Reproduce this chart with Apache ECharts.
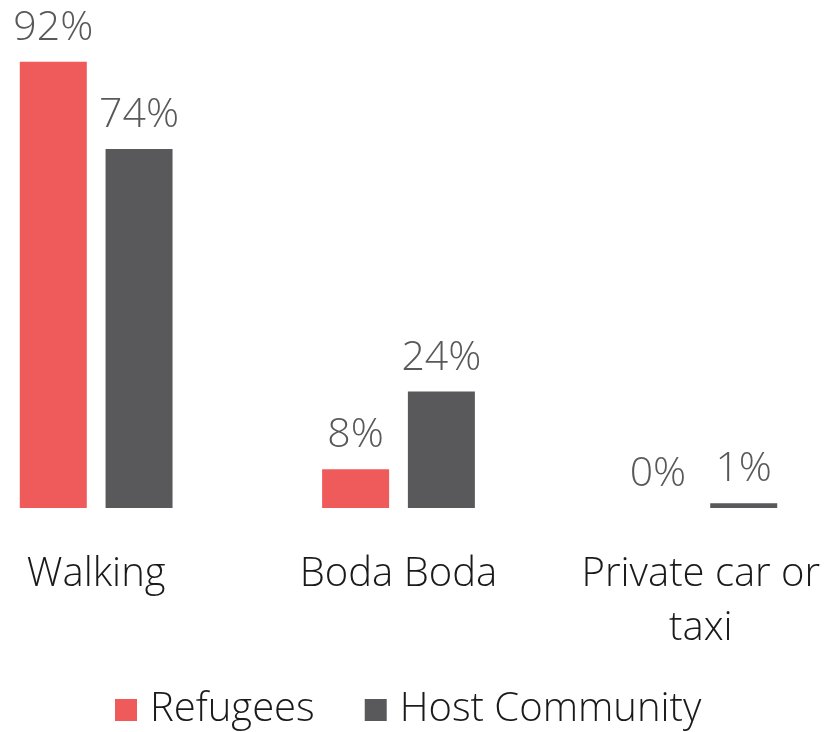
<!DOCTYPE html>
<html>
<head>
<meta charset="utf-8">
<script src="https://cdn.jsdelivr.net/npm/echarts@6/dist/echarts.min.js"></script>
<style>
  html, body { margin: 0; padding: 0; background: #fff; overflow: hidden; width: 825px; height: 732px; }
  /* The plot area bleeds past the page edges so the outer bars sit close to them */
  #chart { position: absolute; left: -55px; top: 0; width: 907px; height: 732px; }
</style>
</head>
<body>
<div id="chart"></div>
<script>
// Mode of transport used, by population group (%)
const categories = ['Walking', 'Boda Boda', 'Private car or\ntaxi'];
const refugees = [92, 8, 0];
const hostCommunity = [74, 24, 1];
const seriesNames = ['Refugees', 'Host Community'];

const FONT = '"Open Sans", "Segoe UI", sans-serif';
const RED = '#EF5A5B';
const GREY = '#59595B';

const chart = echarts.init(document.getElementById('chart'), null, { renderer: 'canvas' });

const labelStyle = {
  show: true,
  position: 'top',
  distance: 13,
  formatter: '{c}%',
  fontFamily: FONT,
  fontWeight: 300,
  fontSize: 41,
  color: '#595959'
};

chart.setOption({
  animation: false,
  grid: { left: 0, right: 0, top: 23, bottom: 224, containLabel: false },
  xAxis: {
    type: 'category',
    data: categories,
    axisLine: { show: false },
    axisTick: { show: false },
    axisLabel: {
      margin: 40,
      fontFamily: FONT,
      fontWeight: 300,
      fontSize: 40,
      lineHeight: 54,
      color: '#1a1a1a',
      interval: 0
    }
  },
  yAxis: {
    type: 'value',
    min: 0,
    max: 100,
    show: false,
    splitLine: { show: false }
  },
  legend: {
    data: seriesNames,
    left: 165,
    top: 685,
    itemWidth: 22,
    itemHeight: 22,
    itemGap: 50,
    icon: 'rect',
    textStyle: {
      fontFamily: FONT,
      fontWeight: 300,
      fontSize: 40,
      color: '#1a1a1a',
      padding: [0, 0, 0, 8]
    }
  },
  series: [
    {
      name: seriesNames[0],
      type: 'bar',
      data: refugees,
      barWidth: 67,
      barGap: '28%',
      itemStyle: { color: RED },
      label: labelStyle
    },
    {
      name: seriesNames[1],
      type: 'bar',
      data: hostCommunity,
      barWidth: 67,
      itemStyle: { color: GREY },
      label: labelStyle
    }
  ]
});
</script>
</body>
</html>
